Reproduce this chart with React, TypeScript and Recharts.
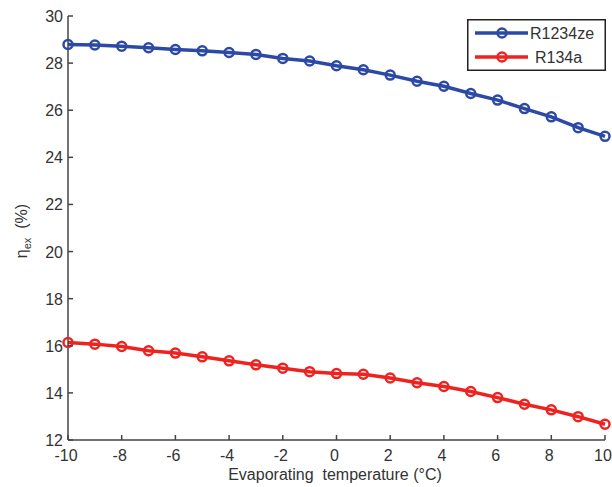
import React from 'react';
import { LineChart, Line, XAxis, YAxis } from 'recharts';

const temps = [-10, -9, -8, -7, -6, -5, -4, -3, -2, -1, 0, 1, 2, 3, 4, 5, 6, 7, 8, 9, 10];
const r1234ze = [28.79, 28.77, 28.72, 28.65, 28.58, 28.52, 28.45, 28.37, 28.2, 28.09, 27.89, 27.72, 27.49, 27.23, 27.02, 26.71, 26.43, 26.07, 25.72, 25.26, 24.89];
const r134a = [16.14, 16.07, 15.97, 15.79, 15.69, 15.53, 15.36, 15.19, 15.05, 14.9, 14.82, 14.79, 14.63, 14.43, 14.27, 14.06, 13.8, 13.52, 13.28, 12.99, 12.67];
const xTicks = [-10, -8, -6, -4, -2, 0, 2, 4, 6, 8, 10];
const yTicks = [12, 14, 16, 18, 20, 22, 24, 26, 28, 30];

const data = temps.map((t, i) => ({ t, ze: r1234ze[i], a: r134a[i] }));

const BLUE = '#2c49a6';
const RED = '#ee2320';
const AXIS = '#444';
const TEXT = '#333';
const FONT = '"Liberation Sans", Arial, sans-serif';

// MATLAB style: ticks point into the plot box
const BottomTick = (p: any) => (
  <g>
    <line x1={p.x} y1={p.y} x2={p.x} y2={p.y - 5} stroke={AXIS} strokeWidth={1.5} />
    <text x={p.x - 2} y={p.y + 21} textAnchor="middle" fontSize={16} fill={TEXT} fontFamily={FONT}>
      {p.payload.value}
    </text>
  </g>
);

const LeftTick = (p: any) => (
  <g>
    <line x1={p.x} y1={p.y} x2={p.x + 5} y2={p.y} stroke={AXIS} strokeWidth={1.5} />
    <text x={p.x - 5} y={p.y + 6} textAnchor="end" fontSize={16} fill={TEXT} fontFamily={FONT}>
      {p.payload.value}
    </text>
  </g>
);

const TopTick = (p: any) => (
  <line x1={p.x} y1={p.y} x2={p.x} y2={p.y + 5} stroke={AXIS} strokeWidth={1.5} />
);

const RightTick = (p: any) => (
  <line x1={p.x} y1={p.y} x2={p.x - 5} y2={p.y} stroke={AXIS} strokeWidth={1.5} />
);

const LegendBox = () => (
  <svg width={139} height={52} style={{ position: 'absolute', left: 467, top: 19 }}>
    <rect x={0.75} y={0.75} width={137.5} height={50.5} fill="#fff" stroke="#222" strokeWidth={1.5} />
    <line x1={8} y1={14} x2={61} y2={14} stroke={BLUE} strokeWidth={3.5} />
    <circle cx={35} cy={14} r={4.5} fill="none" stroke={BLUE} strokeWidth={2.5} />
    <text x={63} y={20} fontSize={16} fill={TEXT} fontFamily={FONT}>R1234ze</text>
    <line x1={8} y1={38} x2={61} y2={38} stroke={RED} strokeWidth={3.5} />
    <circle cx={35} cy={38} r={4.5} fill="none" stroke={RED} strokeWidth={2.5} />
    <text x={68} y={44} fontSize={16} fill={TEXT} fontFamily={FONT}>R134a</text>
  </svg>
);

export default function App() {
  return (
    <div style={{ position: 'absolute', left: 0, top: 0, width: 612, height: 487, background: '#fff' }}>
      <LineChart width={612} height={487} data={data} margin={{ top: 16, right: 7, bottom: 17, left: 28 }}>
        <XAxis
          dataKey="t"
          type="number"
          domain={[-10, 10]}
          ticks={xTicks}
          interval={0}
          height={30}
          tickSize={0}
          tickMargin={0}
          tick={<BottomTick />}
          axisLine={{ stroke: AXIS, strokeWidth: 1.5 }}
          label={{
            content: () => (
              <text x={335} y={480} textAnchor="middle" fontSize={16} fill={TEXT} fontFamily={FONT}>
                {'Evaporating\u00a0 temperature (°C)'}
              </text>
            ),
          }}
        />
        <XAxis
          xAxisId="top"
          orientation="top"
          dataKey="t"
          type="number"
          domain={[-10, 10]}
          ticks={xTicks}
          interval={0}
          height={0}
          tickSize={0}
          tickMargin={0}
          tick={<TopTick />}
          axisLine={{ stroke: AXIS, strokeWidth: 1.5 }}
        />
        <YAxis
          type="number"
          domain={[12, 30]}
          ticks={yTicks}
          interval={0}
          width={40}
          tickSize={0}
          tickMargin={0}
          tick={<LeftTick />}
          axisLine={{ stroke: AXIS, strokeWidth: 1.5 }}
          label={{
            content: () => (
              <text transform="translate(27,231) rotate(-90)" textAnchor="middle" fontSize={16} fill={TEXT} fontFamily={FONT}>
                η<tspan fontSize={11} dy={4}>ex</tspan>
                <tspan dy={-4}>{'\u00a0 (%)'}</tspan>
              </text>
            ),
          }}
        />
        <YAxis
          yAxisId="right"
          orientation="right"
          type="number"
          domain={[12, 30]}
          ticks={yTicks}
          interval={0}
          width={0}
          tickSize={0}
          tickMargin={0}
          tick={<RightTick />}
          axisLine={{ stroke: AXIS, strokeWidth: 1.5 }}
        />
        <Line
          dataKey="ze"
          name="R1234ze"
          stroke={BLUE}
          strokeWidth={3.5}
          dot={{ r: 4.5, fill: 'none', stroke: BLUE, strokeWidth: 2.5 }}
          isAnimationActive={false}
        />
        <Line
          dataKey="a"
          name="R134a"
          stroke={RED}
          strokeWidth={3.5}
          dot={{ r: 4.5, fill: 'none', stroke: RED, strokeWidth: 2.5 }}
          isAnimationActive={false}
        />
      </LineChart>
      <LegendBox />
    </div>
  );
}
